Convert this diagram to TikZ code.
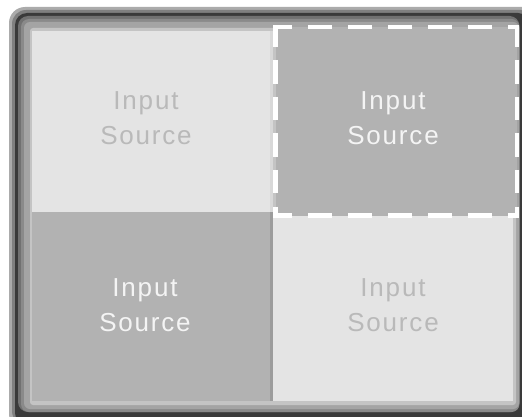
\documentclass[tikz,border=0pt]{standalone}
\usepackage{fontspec}
\newfontfamily\lblfont[LetterSpace=7]{Liberation Sans}
\definecolor{fA}{HTML}{ABABAB}
\definecolor{fB}{HTML}{808080}
\definecolor{fC}{HTML}{3A3A3A}
\definecolor{fD}{HTML}{717171}
\definecolor{fE}{HTML}{8A8A8A}
\definecolor{fF}{HTML}{A4A4A4}
\definecolor{fG}{HTML}{C4C4C4}
\definecolor{cellLite}{HTML}{E4E4E4}
\definecolor{cellDark}{HTML}{B2B2B2}
\definecolor{seam}{HTML}{9C9C9C}
\definecolor{seamLite}{HTML}{D8D8D8}
\definecolor{txtLite}{HTML}{B9B9B9}
\definecolor{txtDark}{HTML}{F4F4F4}
\begin{document}
\begin{tikzpicture}[x=1pt,y=-1pt,
  cellbox/.style={rectangle, inner sep=0pt, outer sep=0pt, anchor=north west},
  lbl/.style={font=\lblfont\fontsize{26}{26}\selectfont, inner sep=0pt, anchor=base},
  lbllite/.style={lbl, text=txtLite},
  lbldark/.style={lbl, text=txtDark},
  dashline/.style={draw=white, line width=4.5pt}]
\useasboundingbox (0,0) rectangle (522,417);
\fill[white] (0,0) rectangle (522,417);
\begin{scope}
  \clip (0,0) rectangle (522,417);
  \fill[fA, rounded corners=16pt] (9,7) rectangle (540,430);
  \fill[fB, rounded corners=14pt] (12,10) rectangle (535,425);
  \fill[fC, rounded corners=12pt] (15,13) rectangle (530,425);
  \fill[fD, rounded corners=10pt] (18,16) rectangle (519.5,412);
  \fill[fE, rounded corners=8pt] (21,19) rectangle (519.5,412);
  \fill[fF, rounded corners=6pt] (24,22) rectangle (519,409);
  \fill[fG, rounded corners=3pt] (30,28) rectangle (516,405);
\end{scope}
% cells
\node[cellbox, fill=seamLite, minimum width=241pt, minimum height=181pt] (tls) at (32,31) {};
\node[cellbox, fill=cellLite, minimum width=238pt, minimum height=181pt] (tl) at (32,31) {};
\node[cellbox, fill=seam, minimum width=241pt, minimum height=189pt] (bls) at (32,212) {};
\node[cellbox, fill=cellDark, minimum width=238pt, minimum height=189pt] (bl) at (32,212) {};
\node[cellbox, fill=seam, minimum width=240pt, minimum height=188pt] (brs) at (273,213) {};
\node[cellbox, fill=cellLite, minimum width=240pt, minimum height=185pt] (br) at (273,216) {};
\node[cellbox, fill=cellDark, minimum width=241.5pt, minimum height=188.5pt] (tr) at (275.5,27) {};
% dashed highlight
\draw[dashline, dash pattern=on 23.3pt off 16.7pt, dash phase=4.85pt]
  ([xshift=-2.25pt]tr.north west) -- ([xshift=2.25pt]tr.north east);
\draw[dashline, dash pattern=on 23.3pt off 16.7pt, dash phase=4.85pt]
  ([xshift=-2.25pt]tr.south west) -- ([xshift=2.25pt]tr.south east);
\draw[dashline, dash pattern=on 23.3pt off 13.3pt, dash phase=3.3pt]
  (tr.north west) -- (tr.south west);
\draw[dashline, dash pattern=on 23.3pt off 13.3pt, dash phase=3.3pt]
  (tr.north east) -- (tr.south east);
% labels
\node[lbllite] (tl1) at (146,109.5) {Input};
\node[lbllite] (tl2) at (146,144.5) {Source};
\node[lbldark] (tr1) at (393,109.5) {Input};
\node[lbldark] (tr2) at (393,144.5) {Source};
\node[lbldark] (bl1) at (145,296.5) {Input};
\node[lbldark] (bl2) at (145,331.5) {Source};
\node[lbllite] (br1) at (393,296.5) {Input};
\node[lbllite] (br2) at (393,331.5) {Source};
\end{tikzpicture}
\end{document}
